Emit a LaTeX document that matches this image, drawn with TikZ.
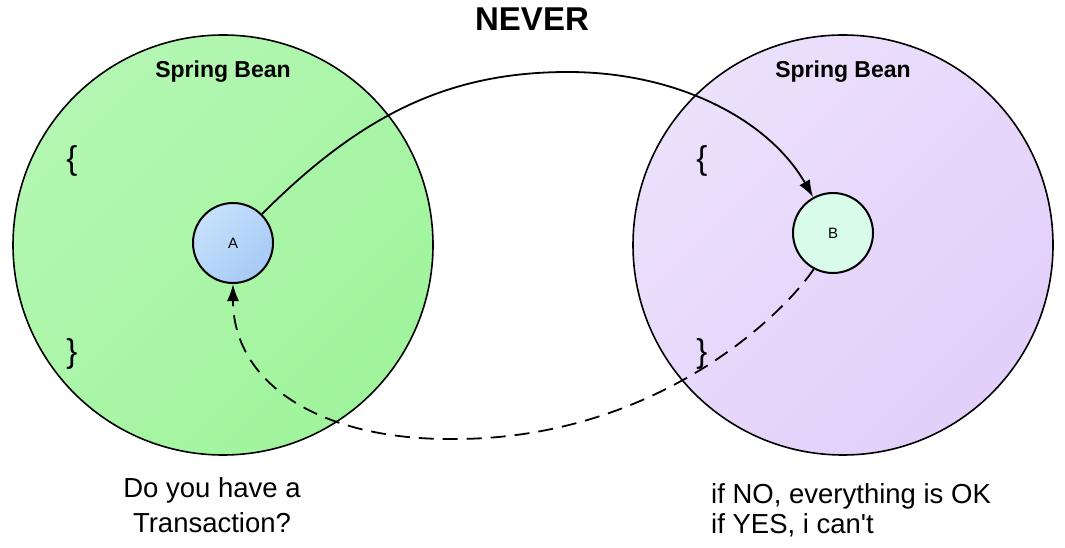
\documentclass[tikz,border=0pt]{standalone}
\usepackage{fontspec}
\setmainfont{Liberation Sans}
\usetikzlibrary{arrows.meta}
\definecolor{gL}{HTML}{B4F7B3}
\definecolor{gR}{HTML}{A0F49C}
\definecolor{pL}{HTML}{EBE1FB}
\definecolor{pR}{HTML}{E2CFFA}
\definecolor{aL}{HTML}{C6E1FC}
\definecolor{aR}{HTML}{A6CAF5}
\definecolor{bF}{HTML}{D9FCEA}
\tikzset{
  bean/.style={circle, draw=black, line width=1.6pt, minimum size=420pt, inner sep=0pt},
  small/.style={circle, draw=black, line width=2pt, minimum size=80pt, inner sep=0pt, font=\fontsize{15}{17}\selectfont},
  conn/.style={line width=1.8pt, -{Latex[length=17pt,width=12pt]}},
  dashconn/.style={conn, dash pattern=on 15pt off 9pt},
  title/.style={font=\fontsize{33}{36}\selectfont\bfseries, anchor=base},
  beanlabel/.style={font=\fontsize{23}{26}\selectfont\bfseries, anchor=base},
  brace/.style={font=\fontsize{33}{36}\selectfont, anchor=base},
  note/.style={font=\fontsize{27.5}{30}\selectfont, anchor=base, inner sep=0pt}
}
\begin{document}
\begin{tikzpicture}[x=1pt,y=-1pt]
\useasboundingbox (0,0) rectangle (1065,548);
\node[bean, left color=gL, right color=gR, shading angle=45] (G) at (223,245) {};
\node[bean, left color=pL, right color=pR, shading angle=45] (P) at (843,245) {};
\node[title] (never) at (532,31) {NEVER};
\node[beanlabel] (sb1) at (223,78) {Spring Bean};
\node[beanlabel] (sb2) at (843,78) {Spring Bean};
\node[brace] (lb1) at (72,170) {\{};
\node[brace] (rb1) at (72,362) {\}};
\node[brace] (lb2) at (702,170) {\{};
\node[brace] (rb2) at (702,362) {\}};
\node[small, left color=aL, right color=aR, shading angle=45] (A) at (233,243) {A};
\node[small, fill=bF] (B) at (833,233) {B};
\coordinate (top) at (568,72);
\coordinate (bot) at (449,439);
\draw[conn] (A.45) .. controls (361,115) and (448,72) .. (top)
   .. controls (678,72) and (769,120) .. (B.119);
\draw[dashconn] (B.242) .. controls (778,321) and (649,441) .. (bot)
   .. controls (319,439) and (233,383) .. (A.south);
\node[note] (q1) at (212,497) {Do you have a};
\node[note] (q2) at (212,532) {Transaction?};
\node[note, anchor=base west] (r1) at (711,503) {if NO, everything is OK};
\node[note, anchor=base west] (r2) at (711,533) {if YES, i can\textquotesingle t};
\end{tikzpicture}
\end{document}
